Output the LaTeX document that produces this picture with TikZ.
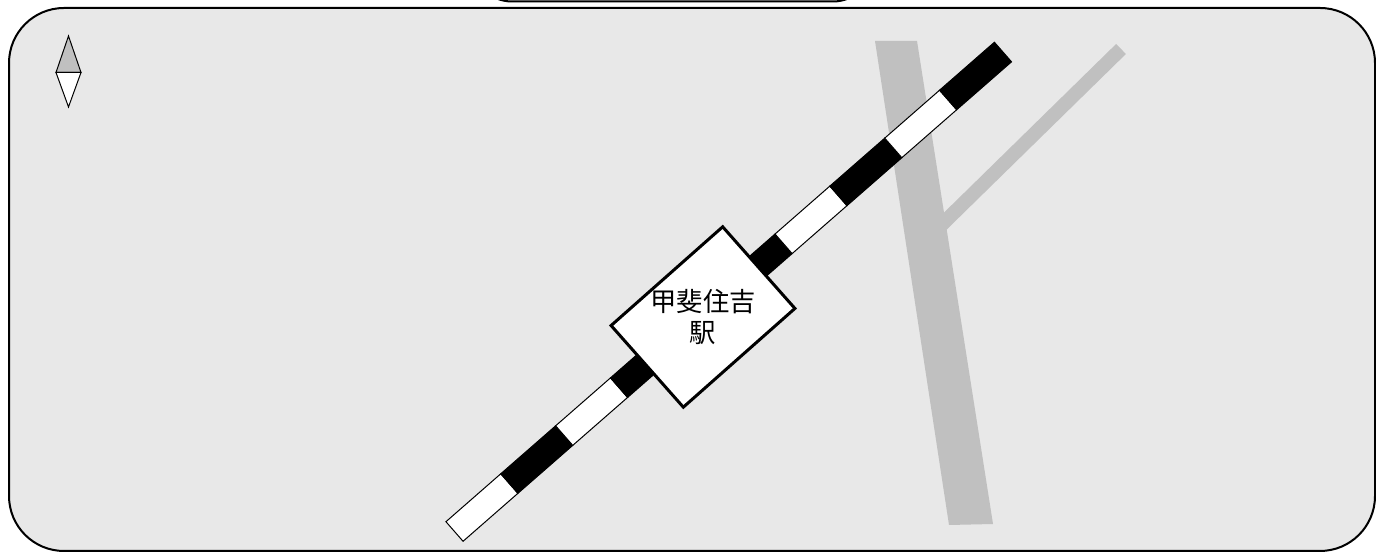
\documentclass[tikz,border=0pt]{standalone}
\usepackage{fontspec}
\newfontfamily\cjk{Noto Sans CJK JP}
\definecolor{mapbg}{HTML}{E8E8E8}
\definecolor{roadgray}{HTML}{C0C0C0}
\begin{document}
\begin{tikzpicture}[x=0.1mm,y=-0.1mm,
  frameline/.style={line width=0.2mm},
  thinline/.style={line width=0.1mm},
  railseg/.style={draw=black,line width=0.1mm}]
\useasboundingbox (0,0) rectangle (1376,552);
% frame and tab
\draw[frameline,rounded corners=5.5mm,fill=mapbg] (9,8) rectangle (1375,551);
\draw[frameline,rounded corners=4mm] (472,-50) rectangle (873,1.5);

% compass
\filldraw[thinline,fill=roadgray] (56,72.5) -- (68.5,36) -- (81,72.5) -- cycle;
\filldraw[thinline,fill=white] (56,72.5) -- (68.5,107) -- (81,72.5) -- cycle;

% roads
\fill[roadgray] (875,41) -- (917,41) -- (993,524) -- (949,525) -- cycle;
\draw[roadgray,line width=1.4mm] (1121,49) -- (925,241);

% railway
\begin{scope}[shift={(454.5,531.5)},rotate=41.16]
\foreach \i/\c in {0/white,1/black,2/white,3/black,4/white,5/black,6/white,7/black,8/white,9/black}
  \filldraw[railseg,fill=\c] ({\i*72.85},-13) rectangle ({(\i+1)*72.85},13);
\end{scope}

% station
\node[draw,line width=0.3mm,fill=white,rotate=41.5,minimum width=14.9mm,minimum height=10.9mm,inner sep=0] (station) at (703,317) {};
\node[font=\cjk\fontsize{7.5}{8.8}\selectfont,align=center,inner sep=0] (stationname) at (station.center) {甲斐住吉\\駅};
\end{tikzpicture}
\end{document}
